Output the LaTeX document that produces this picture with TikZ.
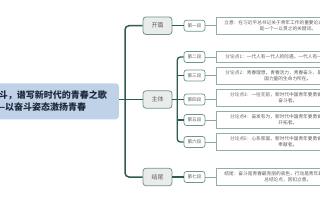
\documentclass[tikz,border=0pt]{standalone}
\usepackage{fontspec}
\newfontfamily\cjk{Noto Sans CJK SC}
\definecolor{mainblue}{HTML}{C0D2E8}
\definecolor{maintext}{HTML}{1E2A3A}
\definecolor{secfill}{HTML}{E9ECEB}
\definecolor{secborder}{HTML}{6F968D}
\definecolor{trunkc}{HTML}{2F5B53}
\definecolor{twigc}{HTML}{8AA59F}
\definecolor{detborder}{HTML}{93ADA7}
\definecolor{textgray}{HTML}{606060}
\begin{document}
\begin{tikzpicture}[x=1pt,y=-1pt,
  mainbox/.style={rectangle, rounded corners=3pt, fill=mainblue, draw=none,
    font=\cjk\bfseries\fontsize{9}{11.7}\selectfont, text=maintext, align=left,
    inner xsep=12pt, minimum height=36pt},
  secbox/.style={rectangle, rounded corners=3pt, fill=secfill, draw=secborder,
    line width=0.8pt, font=\cjk\fontsize{6}{7}\selectfont, text=textgray,
    minimum width=29pt, minimum height=17.5pt, inner sep=0pt},
  parabox/.style={rectangle, rounded corners=2.5pt, fill=white, draw=secborder,
    line width=0.7pt, font=\cjk\fontsize{4.6}{5}\selectfont, text=textgray,
    minimum width=21pt, minimum height=11pt, inner sep=0pt},
  detbox/.style={rectangle, draw=detborder, line width=0.6pt, fill=white,
    font=\cjk\fontsize{4.7}{6}\selectfont, text=textgray, align=center,
    text width=139pt, inner xsep=2pt, inner ysep=3.2pt, anchor=west},
  trunk/.style={draw=trunkc, line width=1.5pt, rounded corners=4pt},
  branch/.style={draw=trunkc, line width=1.3pt, rounded corners=3pt},
  twig/.style={draw=twigc, line width=0.6pt}]
\useasboundingbox (0,0) rectangle (320,200);
\clip (0,0) rectangle (320,200);

% title
\node[mainbox, anchor=east] (title) at (119,101.3) {奋斗，谱写新时代的青春之歌\\——以奋斗姿态激扬青春};

% sections
\node[secbox] (kp) at (157.5,25.7) {开篇};
\node[secbox] (zt) at (157.5,99.5) {主体};
\node[secbox] (jw) at (157.5,177) {结尾};

% paragraphs
\node[parabox] (p1) at (194.5,25.7) {第一段};
\node[parabox] (p2) at (194.5,57) {第二段};
\node[parabox] (p3) at (194.5,75.5) {第三段};
\node[parabox] (p4) at (194.5,99.5) {第四段};
\node[parabox] (p5) at (194.5,120) {第五段};
\node[parabox] (p6) at (194.5,142) {第六段};
\node[parabox] (p7) at (194.5,177) {第七段};

% details
\node[detbox] (d1) at (216,25.7) {立意：在习近平总书记关于青年工作的重要论述中，奋斗始终\\是一个一以贯之的关键词。};
\node[detbox] (d2) at (216,57) {分论点1：一代人有一代人的际遇，一代人有一代人的使命。};
\node[detbox] (d3) at (216,75.5) {分论点2：青春理想，青春活力，青春奋斗，是中国精神、中\\国力量的生命力所在。};
\node[detbox] (d4) at (216,97.8) {分论点3：一往无前，新时代中国青年要勇做追梦路上的\\奋斗者。};
\node[detbox] (d5) at (216,120) {分论点4：奋发有为，新时代中国青年要勇做创新创造的\\开拓者。};
\node[detbox] (d6) at (216,141.8) {分论点5：心系家国，新时代中国青年要勇做担当使命的\\奉献者。};
\node[detbox] (d7) at (216,176.5) {结尾：奋斗是青春最亮丽的底色，行动是青年最有效的担当。\\总结论点，回扣立意。};

% connectors
\coordinate (j1) at (125,99.5);
\coordinate (j2) at (177.3,99.5);
\draw[trunk] (title.east |- zt.west) -- (zt.west);
\draw[trunk] (kp.west) -| (j1) |- (jw.west);
\draw[trunk] (kp.east) -- (p1.west);
\draw[trunk] (jw.east) -- (p7.west);
\draw[trunk] (zt.east) -- (p4.west);
\draw[branch] (p2.west) -| (j2) |- (p6.west);
\draw[branch] (p3.west) -- (p3.west -| j2);
\draw[branch] (p5.west) -- (p5.west -| j2);

\draw[twig] (p1.east) -- (p1.east -| d1.west);
\draw[twig] (p2.east) -- (p2.east -| d2.west);
\draw[twig] (p3.east) -- (p3.east -| d3.west);
\draw[twig] (p4.east) -- (p4.east -| d4.west);
\draw[twig] (p5.east) -- (p5.east -| d5.west);
\draw[twig] (p6.east) -- (p6.east -| d6.west);
\draw[twig] (p7.east) -- (p7.east -| d7.west);
\end{tikzpicture}
\end{document}
